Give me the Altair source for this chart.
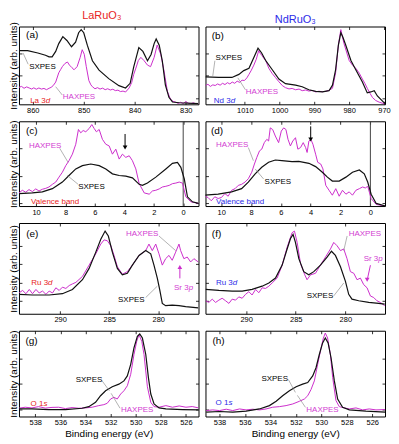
import altair as alt
import pandas as pd

FONT = "Liberation Sans"
BLK = "#111111"
MAG = "#CC2ECC"
MAG_T = "#D23CD2"
RED = "#E82323"
BLUE = "#2B2BE8"
GREY = "#808080"

# ---------------- (a) La 3d ----------------
A_SX_E = [862.7, 861.0, 859.0, 857.5, 856.8, 856.2, 855.5, 854.9, 854.1, 853.3, 852.4, 851.6, 851.0, 850.5, 850.0,
          849.3, 848.3, 847.0, 845.1, 843.1, 841.8, 840.9, 840.2, 839.2, 838.4, 837.5, 836.8, 836.2, 835.8, 835.2,
          834.6, 834.0, 833.3, 832.6, 831.3, 827.5]
A_SX_I = [69, 69, 66, 63, 61, 61, 68, 78, 87, 82, 74, 80, 92, 96, 92,
          76, 56, 44, 33, 24, 21, 27, 48, 73, 68, 56, 64, 78, 84, 76,
          56, 25, 9, 3, 2, 1]
A_HX_E = [862.7, 862.2, 861.7, 861.2, 860.7, 860.2, 859.8, 859.3, 858.8, 858.3, 857.8, 857.3, 856.8, 856.4, 856.0,
          855.5, 854.9, 854.5, 854.2, 853.7, 853.2, 852.8, 852.3, 851.9, 851.3,
          850.7, 850.3, 849.9, 849.5, 849.0, 848.6, 848.3, 847.8, 847.3, 846.8,
          846.3, 845.8, 845.3, 844.8, 844.3, 843.8, 843.3, 842.8, 842.3, 841.8,
          841.1, 840.6, 840.2, 839.7, 839.3, 838.8, 838.2, 837.5, 836.9, 836.2,
          835.6, 834.9, 834.3, 833.6, 833.0, 832.5, 832.0, 831.5, 831.0, 830.5,
          830.0, 829.5, 829.0, 828.5, 828.0, 827.5]
A_HX_I = [21.8, 23.0, 20.6, 22.4, 21.0, 19.6, 21.2, 19.4, 21.0, 19.6, 20.4, 18.8, 20.6, 21.8, 24.0,
          28.6, 40.5, 45.0, 48.4, 52.4, 54.4, 50.4, 47.0, 44.4, 48.4,
          60.3, 70.2, 64.3, 48.4, 30.6, 25.0, 22.6, 20.0, 21.4, 19.6,
          20.8, 18.8, 20.0, 18.4, 19.4, 17.6, 18.2, 16.4, 17.0, 15.8,
          21.0, 28.0, 38.5, 48.0, 56.3, 60.3, 56.3, 50.4, 48.4, 60.3,
          76.2, 64.3, 44.4, 16.7, 6.7, 3.8, 2.8, 1.2, 2.6, 1.0,
          3.6, 1.4, 0.8, 2.0, 0.6, 1.2]

# ---------------- (b) Nd 3d ----------------
B_SX_E = [1021.3, 1017.5, 1013.7, 1011.7, 1010.3, 1008.8, 1007.4, 1006.2, 1005.2, 1004.0,
          1002.1, 1000.2, 998.3, 995.4, 993.5, 991.6, 989.6, 987.7, 985.8, 984.8,
          983.9, 983.1, 982.4, 981.8, 981.0, 979.5, 978.1, 976.2, 974.8, 973.8,
          972.8, 971.9, 969.7]
B_SX_I = [35.3, 34.5, 34.5, 38.5, 43.3, 46.4, 60.3, 72.2, 66.3, 56.3,
          44.4, 32.5, 26.6, 24.6, 22.6, 18.7, 16.7, 15.9, 17.5, 24.6,
          44.4, 76.2, 92.1, 86.1, 76.2, 56.3, 44.4, 28.6, 14.7, 15.9,
          17.5, 10.7, 0.8]
B_HX_E = [1021.3, 1020.6, 1019.9, 1019.2, 1018.5, 1017.8, 1017.1, 1016.4, 1015.7, 1015.0,
          1014.3, 1013.6, 1012.9, 1012.2, 1011.5, 1010.8, 1010.1, 1009.4, 1008.8, 1008.1,
          1007.4, 1006.7, 1006.0, 1005.5, 1005.0, 1004.5, 1004.0, 1003.1, 1002.2, 1001.2,
          1000.2, 999.2, 998.3, 997.3, 996.4, 995.4, 994.4, 993.5, 992.5, 991.6,
          990.6, 989.6, 988.7, 987.7, 986.7, 985.8, 984.8, 983.9, 983.1, 982.4,
          981.5, 980.0, 979.0, 978.1, 977.1, 976.2, 975.5, 974.8, 974.0, 973.3,
          972.4, 971.4, 970.5, 969.7]
B_HX_I = [23.8, 25.8, 23.0, 25.0, 24.2, 26.2, 24.6, 27.0, 25.4, 27.8,
          26.2, 28.6, 27.0, 29.8, 28.2, 31.0, 30.6, 34.0, 38.5, 44.0,
          50.4, 58.0, 69.0, 65.0, 62.3, 59.0, 56.3, 46.4, 40.0, 34.5,
          29.0, 24.0, 21.4, 19.8, 20.4, 18.7, 19.6, 17.5, 18.4, 17.0,
          17.8, 15.9, 16.8, 16.2, 16.7, 18.0, 20.6, 40.5, 76.2, 96.0,
          78.2, 56.3, 50.0, 46.4, 40.0, 32.5, 27.0, 20.6, 14.0, 8.7,
          5.0, 2.8, 1.5, 0.5]

# ---------------- (c) LaRuO3 valence band ----------------
C_SX_E = [11.16, 10.25, 9.57, 8.89, 8.21, 7.76, 7.30, 6.85, 6.28, 5.71, 5.26, 4.81, 4.35, 3.90, 3.45,
          2.99, 2.77, 2.43, 1.86, 1.18, 0.73, 0.39, 0.16, -0.07, -0.29, -0.63, -1.04]
C_SX_I = [14.7, 15.5, 16.7, 20.5, 28.3, 36.0, 43.8, 47.7, 49.6, 47.7, 43.8, 38.0, 36.0, 35.3, 33.3,
          25.6, 24.4, 27.1, 34.1, 43.8, 50.4, 51.6, 45.7, 32.2, 10.9, 5.0, 3.1]
C_HX_E = [11.16, 10.93, 10.70, 10.48, 10.25, 10.02, 9.80, 9.57, 9.34, 9.12,
          8.89, 8.66, 8.44, 8.21, 7.98, 7.76, 7.53, 7.30, 7.12, 6.96,
          6.80, 6.62, 6.39, 6.21, 6.05, 5.90, 5.71, 5.49, 5.26, 5.03,
          4.81, 4.58, 4.35, 4.13, 3.90, 3.67, 3.45, 3.22, 2.99, 2.65,
          2.31, 2.09, 1.86, 1.63, 1.41, 1.18, 0.95, 0.73, 0.50, 0.27,
          0.05, -0.18, -0.52, -1.04]
C_HX_I = [15.5, 18.6, 16.3, 19.4, 17.1, 20.2, 17.8, 19.8, 20.9, 22.5,
          25.6, 28.3, 34.1, 39.9, 47.7, 53.5, 61.2, 72.9, 90.3, 86.4,
          89.1, 87.6, 91.5, 96.1, 91.5, 87.6, 90.3, 78.7, 72.9, 70.9,
          61.2, 67.1, 55.4, 61.2, 57.4, 59.3, 53.5, 43.8, 26.4, 15.5,
          14.0, 17.8, 18.6, 20.2, 22.5, 23.3, 24.4, 26.4, 27.1, 28.3,
          27.1, 10.9, 5.0, 3.1]

# ---------------- (d) NdRuO3 valence band ----------------
D_SX_E = [11.1, 10.2, 9.3, 8.63, 8.18, 7.72, 7.28, 6.82, 6.37, 5.93, 5.25, 4.8, 4.12, 3.67, 3.22,
          2.88, 2.55, 2.09, 1.64, 1.2, 0.74, 0.41, 0.18, -0.05, -0.39, -1.01]
D_SX_I = [12.8, 14.0, 16.7, 20.5, 28.3, 38.0, 45.7, 51.6, 54.3, 53.5, 52.3, 52.7, 50.4, 46.5, 39.9,
          34.1, 29.5, 29.5, 34.1, 39.9, 42.6, 38.0, 28.3, 14.0, 3.1, 0.0]
D_HX_E = [11.1, 10.88, 10.66, 10.43, 10.2, 9.98, 9.75, 9.53, 9.3, 9.07,
          8.85, 8.63, 8.4, 8.18, 7.95, 7.77, 7.61, 7.43, 7.28, 7.11,
          6.94, 6.82, 6.71, 6.55, 6.37, 6.15, 5.97, 5.81, 5.66, 5.52,
          5.36, 5.2, 5.02, 4.86, 4.68, 4.5, 4.34, 4.24, 4.12, 3.99,
          3.85, 3.67, 3.53, 3.33, 3.18, 2.99, 2.77, 2.55, 2.32, 2.09,
          1.87, 1.64, 1.42, 1.2, 0.97, 0.74, 0.52, 0.34, 0.18, -0.05,
          -0.39, -1.01]
D_HX_I = [11.6, 10.1, 6.2, 10.9, 8.9, 10.1, 14.7, 11.6, 18.6, 20.5,
          24.4, 25.6, 28.3, 32.2, 39.9, 49.6, 57.4, 65.1, 67.1, 74.8,
          78.7, 76.7, 92.2, 90.3, 82.6, 74.8, 88.4, 92.2, 90.3, 78.7,
          70.9, 76.7, 80.6, 67.1, 69.0, 74.8, 69.0, 63.2, 76.7, 78.7,
          72.9, 61.2, 51.6, 49.6, 43.8, 24.4, 18.6, 12.8, 20.5, 11.6,
          18.6, 14.0, 16.7, 12.8, 18.6, 20.5, 22.5, 21.3, 23.3, 8.9,
          1.9, 0.0]

# ---------------- (e) LaRuO3 Ru 3d ----------------
E_SX_E = [294.17, 292.82, 291.12, 289.77, 288.75, 287.73, 287.05, 286.37, 285.86, 285.42,
          285.09, 284.68, 284.17, 283.66, 283.15, 282.64, 281.96, 281.28, 280.77, 280.44,
          280.1, 279.86, 279.59, 279.25, 278.58, 277.89, 277.21, 275.93]
E_SX_I = [21.4, 20.7, 20.7, 22.1, 26.8, 37.5, 50.0, 67.9, 82.1, 91.1,
          85.7, 67.9, 50.0, 42.9, 44.6, 53.6, 64.3, 69.6, 66.1, 53.6,
          39.3, 26.8, 11.4, 8.9, 9.6, 8.9, 7.9, 6.4]
E_HX_E = [294.17, 293.83, 293.49, 293.15, 292.82, 292.47, 292.14, 291.8, 291.45, 291.12,
          290.78, 290.44, 290.1, 289.77, 289.42, 289.08, 288.75, 288.4, 287.73, 287.05,
          286.37, 285.86, 285.52, 285.19, 284.84, 284.51, 284.17, 283.66, 283.15, 282.64,
          281.96, 281.28, 280.95, 280.61, 280.26, 279.93, 279.59, 279.25, 278.91, 278.58,
          278.23, 277.89, 277.72, 277.39, 277.05, 276.7, 276.37, 275.93]
E_HX_I = [23.2, 25.7, 22.1, 26.8, 22.1, 26.8, 22.9, 25.0, 21.4, 25.0,
          22.9, 28.6, 25.7, 29.3, 27.9, 31.1, 32.9, 34.6, 41.1, 53.6,
          66.1, 76.8, 81.4, 80.4, 75.0, 64.3, 51.8, 43.6, 46.4, 53.6,
          64.3, 69.6, 76.8, 69.6, 76.8, 66.1, 53.6, 60.7, 64.3, 58.9,
          67.9, 76.8, 69.6, 60.7, 62.5, 57.1, 60.7, 57.1]

# ---------------- (f) NdRuO3 Ru 3d ----------------
F_SX_E = [294.09, 292.75, 291.41, 290.4, 289.4, 288.39, 287.71, 287.04, 286.37, 285.87,
          285.53, 285.27, 285.03, 284.69, 284.19, 283.69, 283.18, 282.51, 281.84, 281.4,
          281.0, 280.49, 279.99, 279.66, 279.33, 278.65, 277.64, 276.64, 276.03]
F_SX_I = [26.8, 25.7, 25.0, 25.0, 26.8, 30.4, 33.9, 39.3, 53.6, 71.4,
          82.9, 87.5, 78.6, 60.7, 46.4, 42.9, 46.4, 53.6, 62.5, 68.9,
          64.3, 51.8, 35.7, 21.4, 16.1, 14.3, 12.5, 11.4, 10.7]
F_HX_E = [294.09, 293.76, 293.42, 293.08, 292.75, 292.42, 292.07, 291.74, 291.41, 291.07,
          290.74, 290.4, 290.06, 289.73, 289.4, 289.05, 288.72, 288.39, 288.05, 287.71,
          287.38, 286.88, 286.37, 285.87, 285.37, 285.13, 284.86, 284.52, 284.09, 283.86,
          283.51, 283.01, 282.51, 282.0, 281.5, 281.17, 280.84, 280.49, 280.16, 279.83,
          279.49, 279.15, 278.82, 278.48, 278.15, 277.81, 277.47, 277.14, 276.81, 276.47,
          276.03]
F_HX_I = [14.3, 12.5, 16.1, 12.5, 15.0, 17.1, 14.3, 11.4, 16.1, 15.0,
          18.6, 17.1, 21.4, 24.3, 20.7, 26.8, 23.2, 28.6, 27.9, 30.4,
          33.9, 39.3, 53.6, 73.2, 89.3, 91.1, 78.6, 55.4, 42.9, 37.5,
          42.9, 44.6, 53.6, 62.5, 71.4, 78.6, 75.0, 69.6, 71.4, 60.7,
          46.4, 44.6, 37.5, 39.3, 32.1, 28.6, 19.6, 17.9, 14.3, 12.5,
          8.9]

# ---------------- (g) LaRuO3 O 1s ----------------
G_SX_E = [539.34, 538.27, 536.94, 535.6, 534.27, 533.74, 533.2, 532.8, 532.4, 531.87,
          531.34, 530.94, 530.67, 530.4, 530.14, 529.87, 529.68, 529.47, 529.2, 528.99,
          528.8, 528.54, 528.14, 527.6, 526.27, 524.99]
G_SX_I = [8.8, 8.8, 8.1, 8.1, 9.6, 11.5, 16.5, 24.2, 30.0, 34.6,
          37.7, 41.5, 47.3, 60.8, 80.0, 93.5, 96.2, 91.5, 72.3, 45.4,
          26.2, 14.6, 10.0, 8.8, 8.1, 7.7]
G_HX_E = [539.34, 538.8, 538.27, 537.74, 537.2, 536.67, 536.14, 535.6, 535.07, 534.54,
          534.0, 533.47, 532.94, 532.54, 532.27, 532.0, 531.74, 531.47, 531.2, 530.94,
          530.67, 530.4, 530.14, 529.92, 529.74, 529.52, 529.34, 529.07, 528.8, 528.54,
          528.14, 527.6, 527.07, 526.54, 526.0, 525.5, 524.99]
G_HX_I = [9.6, 10.8, 10.0, 11.5, 9.8, 10.6, 10.8, 9.2, 10.4, 9.6,
          10.0, 10.8, 12.7, 13.8, 15.4, 20.4, 22.3, 20.4, 26.2, 30.0,
          35.8, 49.2, 72.3, 87.7, 95.4, 87.7, 72.3, 34.6, 16.5, 11.5,
          10.8, 12.7, 10.8, 12.3, 10.8, 11.6, 10.0]

# ---------------- (h) NdRuO3 O 1s ----------------
H_SX_E = [539.04, 538.0, 536.96, 535.91, 534.86, 534.08, 533.55, 533.04, 532.51, 531.98,
          531.47, 531.07, 530.68, 530.42, 530.16, 529.9, 529.69, 529.47, 529.24, 528.98,
          528.72, 528.33, 527.8, 526.5, 524.98]
H_SX_I = [5.0, 5.8, 5.0, 6.2, 8.8, 12.7, 17.7, 24.2, 30.0, 34.6,
          37.7, 39.6, 47.3, 56.9, 72.3, 85.8, 91.5, 85.8, 68.5, 41.5,
          20.4, 10.8, 7.7, 6.2, 5.0]
H_HX_E = [539.04, 538.53, 538.0, 537.47, 536.96, 536.43, 535.91, 535.39, 534.86, 534.34,
          533.82, 533.29, 532.77, 532.25, 531.73, 531.33, 531.07, 530.81, 530.55, 530.29,
          530.02, 529.84, 529.69, 529.51, 529.29, 529.11, 528.85, 528.59, 528.2, 527.8,
          527.28, 526.76, 526.24, 525.71, 524.98]
H_HX_I = [6.9, 7.7, 6.9, 8.5, 6.9, 8.8, 7.7, 8.5, 7.7, 8.8,
          10.8, 11.5, 12.7, 14.6, 17.7, 20.4, 24.2, 31.5, 41.5, 60.8,
          80.0, 91.5, 97.3, 91.5, 72.3, 45.4, 18.5, 11.5, 10.0, 8.8,
          10.0, 7.7, 8.8, 7.7, 8.1]

# tick values
XT_A = [860, 850, 840, 830]
XT_B = [1010, 1000, 990, 980, 970]
XT_VB = [10, 8, 6, 4, 2, 0]
XT_RU = [290, 285, 280]
XT_O = [538, 536, 534, 532, 530, 528, 526]

W = 180
ROW_H = [78, 85, 91, 86]


def panel(p):
    xs = alt.Scale(domain=p["xdom"], nice=False, zero=False)
    ys = alt.Scale(domain=[0, 100], nice=False, zero=False)

    def XN(f="E"):
        return alt.X(f + ":Q", scale=xs, axis=None)

    def YN(f="I"):
        return alt.Y(f + ":Q", scale=ys, axis=None)

    bottom = alt.Axis(orient="bottom", values=p["xticks"], offset=-3, tickSize=3, domain=False, grid=False,
                      labelPadding=2, labelFlush=False, labelOverlap=False, titlePadding=3, format="d")
    top = alt.Axis(orient="top", values=p["xticks"], offset=-3, tickSize=3, domain=False, grid=False,
                   labels=False)
    left = alt.Axis(orient="left", values=p["yticks"], offset=-3, tickSize=3, domain=False, grid=False,
                    labels=False, titlePadding=0, minExtent=0)
    right = alt.Axis(orient="right", values=p["yticks"], offset=-3, tickSize=3, domain=False, grid=False,
                     labels=False, minExtent=0)

    layers = []
    if p.get("vline"):
        layers.append(alt.Chart(pd.DataFrame({"E": [0.0]})).mark_rule(color="#444444", strokeWidth=1)
                      .encode(x=XN()))
    hx = pd.DataFrame({"E": p["hxE"], "I": p["hxI"]})
    sx = pd.DataFrame({"E": p["sxE"], "I": p["sxI"]})
    layers.append(alt.Chart(hx).mark_line(color=MAG, strokeWidth=1, clip=True).encode(
        x=alt.X("E:Q", scale=xs, axis=top, title=None),
        y=alt.Y("I:Q", scale=ys, axis=right, title=None)))
    layers.append(alt.Chart(sx).mark_line(color=BLK, strokeWidth=1.2, clip=True).encode(
        x=alt.X("E:Q", scale=xs, axis=bottom, title=p["xtitle"]),
        y=alt.Y("I:Q", scale=ys, axis=left, title=p["ytitle"])))

    # leader lines
    ld = pd.DataFrame(p["leaders"], columns=["E", "I", "E2", "I2"])
    layers.append(alt.Chart(ld).mark_rule(color=GREY, strokeWidth=0.6).encode(
        x=XN(), y=YN(), x2="E2:Q", y2="I2:Q"))

    # arrows
    if p.get("arrow"):
        a = p["arrow"]
        ad = pd.DataFrame([a["seg"]], columns=["E", "I", "E2", "I2"])
        layers.append(alt.Chart(ad).mark_rule(color=a["color"], strokeWidth=1).encode(
            x=XN(), y=YN(), x2="E2:Q", y2="I2:Q"))
        hd = pd.DataFrame([a["head"]], columns=["E", "I"])
        layers.append(alt.Chart(hd).mark_point(shape=a["shape"], filled=True, size=22, opacity=1,
                                               color=a["color"]).encode(x=XN(), y=YN()))

    # text annotations
    td = pd.DataFrame(p["texts"], columns=["E", "I", "t", "c", "s"])
    layers.append(alt.Chart(td).mark_text(align="left", baseline="middle", font=FONT).encode(
        x=XN(), y=YN(), text="t:N", color=alt.Color("c:N", scale=None), size=alt.Size("s:Q", scale=None)))

    # labels with an italic final letter
    for (E, I, normal, ital, color, dx) in p["ilabels"]:
        d1 = pd.DataFrame({"E": [E], "I": [I], "t": [normal]})
        d2 = pd.DataFrame({"E": [E], "I": [I], "t": [ital]})
        layers.append(alt.Chart(d1).mark_text(align="left", baseline="middle", font=FONT, fontSize=8,
                                              color=color).encode(x=XN(), y=YN(), text="t:N"))
        layers.append(alt.Chart(d2).mark_text(align="left", baseline="middle", font=FONT, fontSize=8,
                                              fontStyle="italic", color=color, dx=dx)
                      .encode(x=XN(), y=YN(), text="t:N"))

    ch = alt.layer(*layers).resolve_axis(x="independent", y="independent")
    props = dict(width=W, height=p["h"])
    if p.get("title"):
        props["title"] = alt.TitleParams(text=p["title"], color=p["tcolor"], fontSize=11, font=FONT,
                                         fontWeight="normal", offset=1, anchor="middle", dx=p["tdx"])
    return ch.properties(**props)


YT = "Intensity (arb. units)"
XTL = "Binding energy (eV)"

panels = [
    dict(sxE=A_SX_E, sxI=A_SX_I, hxE=A_HX_E, hxI=A_HX_I, xdom=[862.7, 827.5], xticks=XT_A,
         yticks=[8, 37, 66], h=ROW_H[0], xtitle=None, ytitle=YT, title="LaRuO₃", tcolor=RED, tdx=-7,
         leaders=[(861.9, 66, 860.9, 51.5), (855.5, 22.6, 854.2, 11.9)],
         texts=[(861.3, 88.5, "(a)", "#000000", 10), (860.7, 48, "SXPES", "#000000", 8),
                (854.1, 9.9, "HAXPES", MAG_T, 8)],
         ilabels=[(860.5, 4.5, "La 3", "d", RED, 15.6)]),
    dict(sxE=B_SX_E, sxI=B_SX_I, hxE=B_HX_E, hxI=B_HX_I, xdom=[1021.3, 969.7], xticks=XT_B,
         yticks=[8, 37, 66], h=ROW_H[0], xtitle=None, ytitle=None, title="NdRuO₃", tcolor=BLUE, tdx=0,
         leaders=[(1018.6, 56, 1019.2, 36.5), (1012.0, 34, 1009.8, 18.6)],
         texts=[(1019.5, 87.3, "(b)", "#000000", 10), (1018.4, 60, "SXPES", "#000000", 8),
                (1009.7, 15.8, "HAXPES", MAG_T, 8)],
         ilabels=[(1018.9, 4.5, "Nd 3", "d", BLUE, 16.9)]),
    dict(sxE=C_SX_E, sxI=C_SX_I, hxE=C_HX_E, hxI=C_HX_I, xdom=[11.16, -1.04], xticks=XT_VB,
         yticks=[3, 35, 68], h=ROW_H[1], xtitle=None, ytitle=YT, vline=True,
         leaders=[(8.39, 68.1, 7.82, 51.5), (7.87, 36, 7.14, 25.6)],
         arrow=dict(seg=(3.95, 85, 3.95, 70), head=(3.95, 69), shape="triangle-down", color="#000000"),
         texts=[(10.68, 88.7, "(c)", "#000000", 10), (10.48, 71.3, "HAXPES", MAG_T, 8),
                (7.14, 22.4, "SXPES", "#000000", 8), (10.34, 4.5, "Valence band", RED, 8)],
         ilabels=[]),
    dict(sxE=D_SX_E, sxI=D_SX_I, hxE=D_HX_E, hxI=D_HX_I, xdom=[11.05, -0.98], xticks=XT_VB,
         yticks=[3, 35, 68], h=ROW_H[1], xtitle=None, ytitle=None, vline=True,
         leaders=[(8.18, 69, 7.84, 53.5), (7.72, 43.7, 7.16, 32)],
         arrow=dict(seg=(4.0, 94, 4.0, 80), head=(4.0, 78.5), shape="triangle-down", color="#000000"),
         texts=[(10.68, 88.7, "(d)", "#000000", 10), (10.34, 72.4, "HAXPES", MAG_T, 8),
                (7.09, 28.3, "SXPES", "#000000", 8), (10.34, 4.5, "Valence band", BLUE, 8)],
         ilabels=[]),
    dict(sxE=E_SX_E, sxI=E_SX_I, hxE=E_HX_E, hxI=E_HX_I, xdom=[294.2, 275.9], xticks=XT_RU,
         yticks=[14, 34, 55, 75], h=ROW_H[2], xtitle=None, ytitle=YT,
         leaders=[(279.93, 85.7, 278.23, 69.6), (281.28, 17.9, 280.1, 30.4)],
         arrow=dict(seg=(277.8, 39, 277.8, 50), head=(277.8, 51.5), shape="triangle-up", color=MAG),
         texts=[(293.46, 87.5, "(e)", "#000000", 10), (283.29, 87.5, "HAXPES", MAG_T, 8),
                (284.1, 15.7, "SXPES", "#000000", 8)],
         ilabels=[(292.95, 33.9, "Ru 3", "d", RED, 16.9), (278.4, 28.6, "Sr 3", "p", MAG_T, 14.7)]),
    dict(sxE=F_SX_E, sxI=F_SX_I, hxE=F_HX_E, hxI=F_HX_I, xdom=[294.1, 276.0], xticks=XT_RU,
         yticks=[14, 34, 55, 75], h=ROW_H[2], xtitle=None, ytitle=None,
         leaders=[(279.82, 85.7, 280.16, 69.6), (281.17, 19.7, 280.16, 33.9)],
         arrow=dict(seg=(277.47, 53.5, 277.76, 39), head=(277.8, 37.5), shape="triangle-down", color=MAG),
         texts=[(293.46, 87.5, "(f)", "#000000", 10), (279.66, 87.5, "HAXPES", MAG_T, 8),
                (283.9, 19.9, "SXPES", "#000000", 8)],
         ilabels=[(293.05, 33.9, "Ru 3", "d", BLUE, 16.9), (278.15, 60.7, "Sr 3", "p", MAG_T, 14.7)]),
    dict(sxE=G_SX_E, sxI=G_SX_I, hxE=G_HX_E, hxI=G_HX_I, xdom=[539.3, 525.0], xticks=XT_O,
         yticks=[8, 38, 68], h=ROW_H[3], xtitle=XTL, ytitle=YT,
         leaders=[(532.7, 42, 532.1, 30), (531.96, 27, 531.25, 9.6)],
         texts=[(538.78, 88.1, "(g)", "#000000", 10), (534.78, 43.1, "SXPES", "#000000", 8),
                (531.17, 7.3, "HAXPES", MAG_T, 8)],
         ilabels=[(538.38, 14.2, "O 1", "s", RED, 12.9)]),
    dict(sxE=H_SX_E, sxI=H_SX_I, hxE=H_HX_E, hxI=H_HX_I, xdom=[539.1, 525.0], xticks=XT_O,
         yticks=[8, 38, 68], h=ROW_H[3], xtitle=XTL, ytitle=None,
         leaders=[(532.59, 43.1, 532.04, 28.1), (531.88, 24.6, 531.25, 10.7)],
         texts=[(538.55, 88.1, "(h)", "#000000", 10), (534.71, 44.2, "SXPES", "#000000", 8),
                (531.18, 7.3, "HAXPES", MAG_T, 8)],
         ilabels=[(538.31, 15.3, "O 1", "s", BLUE, 12.9)]),
]

charts = [panel(p) for p in panels]

chart = alt.concat(*charts, columns=2, spacing={"row": 17, "column": 7}, bounds="flush", padding=0).configure_view(
    stroke="#000000", strokeWidth=1
).configure_axis(
    labelFont=FONT, titleFont=FONT, labelFontSize=7.5, titleFontSize=10, titleFontWeight="normal",
    labelColor="#000000", titleColor="#000000", tickColor="#000000", tickWidth=0.8
).configure_title(font=FONT, fontWeight="normal")

chart.save("out.html", embed_options={"renderer": "svg", "actions": False})
